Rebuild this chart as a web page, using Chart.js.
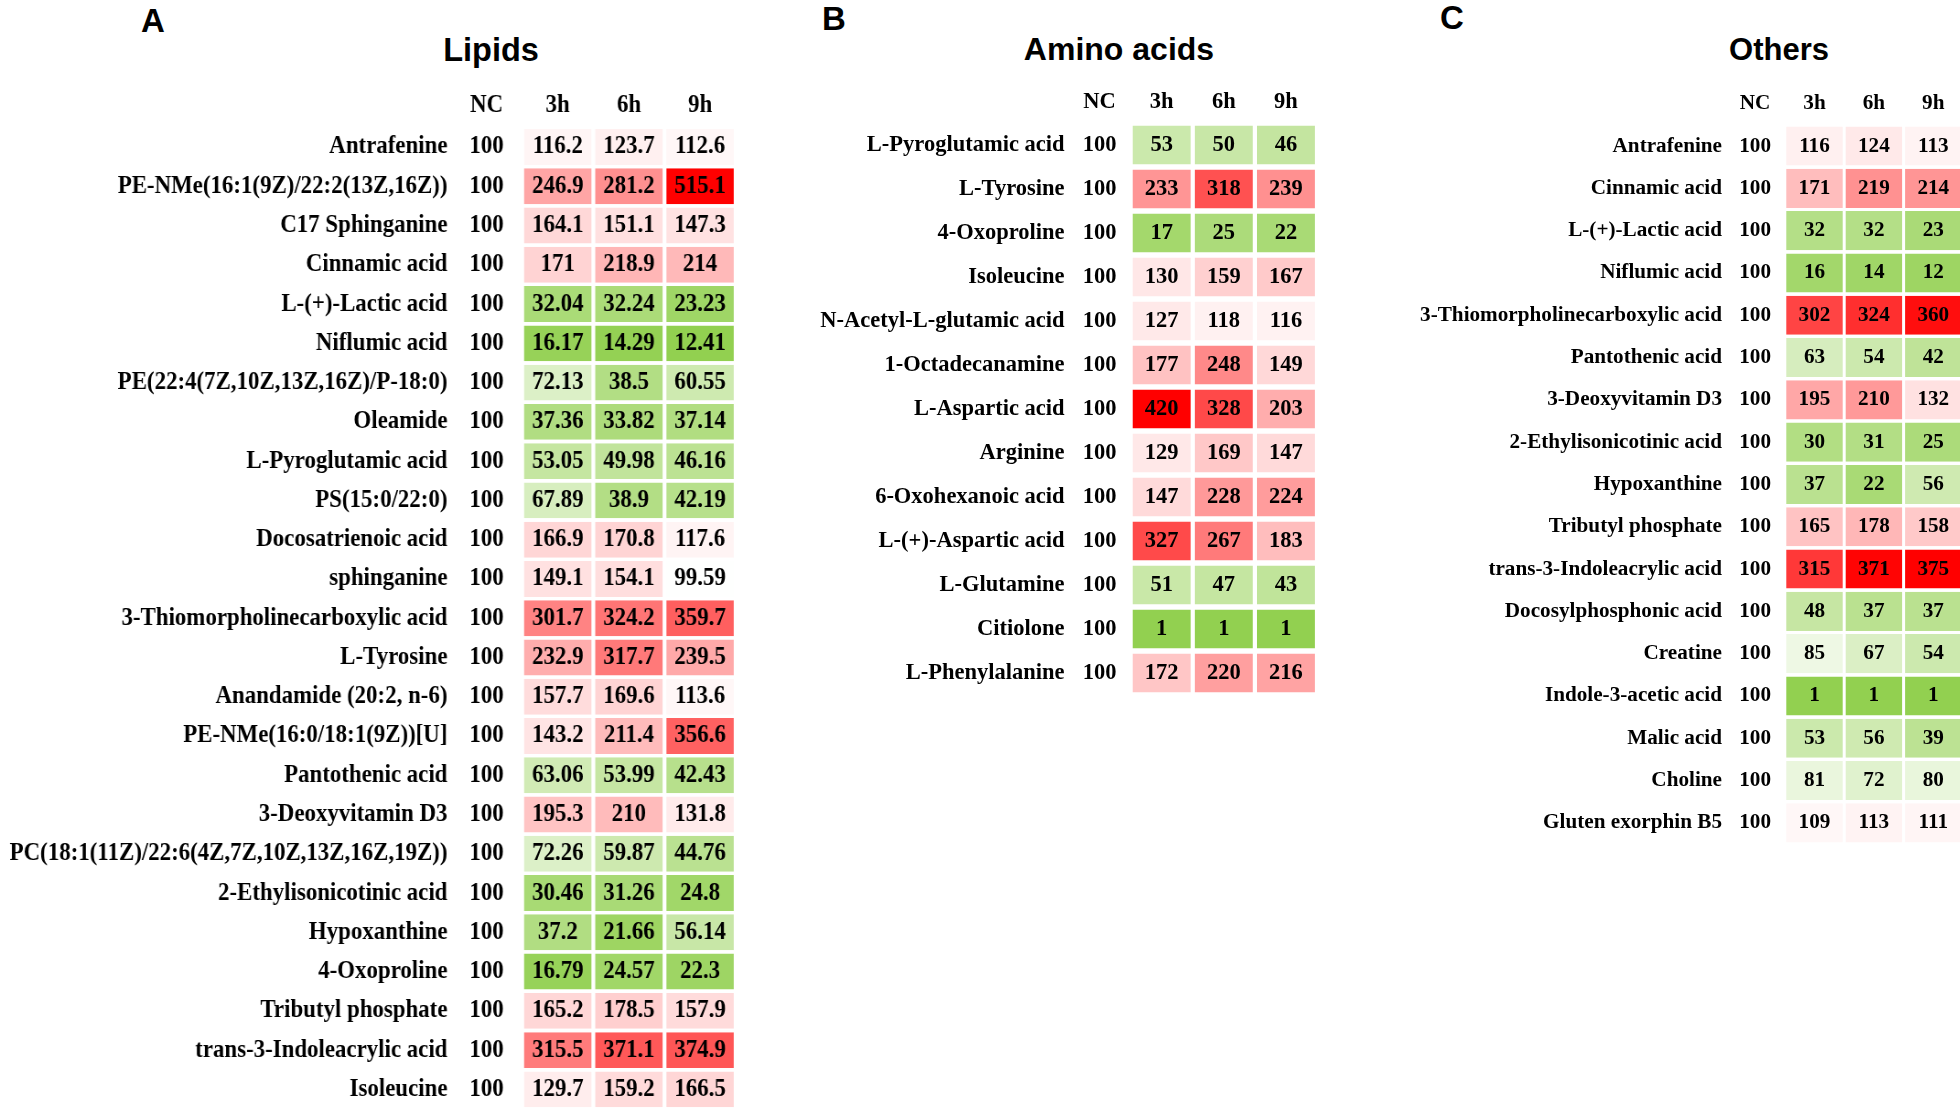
<!DOCTYPE html>
<html>
<head>
<meta charset="utf-8">
<script src="https://cdn.jsdelivr.net/npm/chart.js@4.4.1/dist/chart.umd.min.js"></script>
<style>
  html, body { margin: 0; padding: 0; background: #fff; width: 1960px; height: 1109px; overflow: hidden; }
  canvas.panel { position: absolute; transform-origin: 0 0; }
  .lbl { position: absolute; font-family: 'Liberation Sans', Arial, sans-serif; font-weight: bold;
         line-height: 1; white-space: nowrap; transform: translateX(-50%); color: #000; }
</style>
</head>
<body>
<div class="lbl" style="left:153px; top:4px; font-size:33px">A</div>
<div class="lbl" style="left:834px; top:2px; font-size:33px">B</div>
<div class="lbl" style="left:1452px; top:1px; font-size:33px">C</div>
<div class="lbl" style="left:491px; top:34px; font-size:32.5px">Lipids</div>
<div class="lbl" style="left:1119px; top:33px; font-size:32px">Amino acids</div>
<div class="lbl" style="left:1779px; top:34px; font-size:31px">Others</div>

<canvas id="lipids" class="panel" width="804" height="1107" style="left:0px; top:2px; width:804px; height:1107px; transform:scaleX(0.915)"></canvas>
<canvas id="amino" class="panel" width="517" height="695" style="left:800px; top:0px; width:517px; height:695px"></canvas>
<canvas id="others" class="panel" width="583" height="843" style="left:1380px; top:1px; width:583px; height:843px"></canvas>

<script>
const timeLabels = ['NC', '3h', '6h', '9h'];

// A - lipids
const lipidNames = [
  'Antrafenine', 'PE-NMe(16:1(9Z)/22:2(13Z,16Z))', 'C17 Sphinganine', 'Cinnamic acid',
  'L-(+)-Lactic acid', 'Niflumic acid', 'PE(22:4(7Z,10Z,13Z,16Z)/P-18:0)', 'Oleamide',
  'L-Pyroglutamic acid', 'PS(15:0/22:0)', 'Docosatrienoic acid', 'sphinganine',
  '3-Thiomorpholinecarboxylic acid', 'L-Tyrosine', 'Anandamide (20:2, n-6)',
  'PE-NMe(16:0/18:1(9Z))[U]', 'Pantothenic acid', '3-Deoxyvitamin D3',
  'PC(18:1(11Z)/22:6(4Z,7Z,10Z,13Z,16Z,19Z))', '2-Ethylisonicotinic acid', 'Hypoxanthine',
  '4-Oxoproline', 'Tributyl phosphate', 'trans-3-Indoleacrylic acid', 'Isoleucine'
];
const lipidNC = [100, 100, 100, 100, 100, 100, 100, 100, 100, 100, 100, 100, 100,
  100, 100, 100, 100, 100, 100, 100, 100, 100, 100, 100, 100];
const lipid3h = [116.2, 246.9, 164.1, 171, 32.04, 16.17, 72.13, 37.36, 53.05, 67.89, 166.9, 149.1,
  301.7, 232.9, 157.7, 143.2, 63.06, 195.3, 72.26, 30.46, 37.2, 16.79, 165.2, 315.5, 129.7];
const lipid6h = [123.7, 281.2, 151.1, 218.9, 32.24, 14.29, 38.5, 33.82, 49.98, 38.9, 170.8, 154.1,
  324.2, 317.7, 169.6, 211.4, 53.99, 210, 59.87, 31.26, 21.66, 24.57, 178.5, 371.1, 159.2];
const lipid9h = [112.6, 515.1, 147.3, 214, 23.23, 12.41, 60.55, 37.14, 46.16, 42.19, 117.6, 99.59,
  359.7, 239.5, 113.6, 356.6, 42.43, 131.8, 44.76, 24.8, 56.14, 22.3, 157.9, 374.9, 166.5];

// B - amino acids
const aminoNames = [
  'L-Pyroglutamic acid', 'L-Tyrosine', '4-Oxoproline', 'Isoleucine', 'N-Acetyl-L-glutamic acid',
  '1-Octadecanamine', 'L-Aspartic acid', 'Arginine', '6-Oxohexanoic acid', 'L-(+)-Aspartic acid',
  'L-Glutamine', 'Citiolone', 'L-Phenylalanine'
];
const aminoNC = [100, 100, 100, 100, 100, 100, 100, 100, 100, 100, 100, 100, 100];
const amino3h = [53, 233, 17, 130, 127, 177, 420, 129, 147, 327, 51, 1, 172];
const amino6h = [50, 318, 25, 159, 118, 248, 328, 169, 228, 267, 47, 1, 220];
const amino9h = [46, 239, 22, 167, 116, 149, 203, 147, 224, 183, 43, 1, 216];

// C - others
const otherNames = [
  'Antrafenine', 'Cinnamic acid', 'L-(+)-Lactic acid', 'Niflumic acid',
  '3-Thiomorpholinecarboxylic acid', 'Pantothenic acid', '3-Deoxyvitamin D3',
  '2-Ethylisonicotinic acid', 'Hypoxanthine', 'Tributyl phosphate', 'trans-3-Indoleacrylic acid',
  'Docosylphosphonic acid', 'Creatine', 'Indole-3-acetic acid', 'Malic acid', 'Choline',
  'Gluten exorphin B5'
];
const otherNC = [100, 100, 100, 100, 100, 100, 100, 100, 100, 100, 100, 100, 100, 100, 100, 100, 100];
const other3h = [116, 171, 32, 16, 302, 63, 195, 30, 37, 165, 315, 48, 85, 1, 53, 81, 109];
const other6h = [124, 219, 32, 14, 324, 54, 210, 31, 22, 178, 371, 37, 67, 1, 56, 72, 113];
const other9h = [113, 214, 23, 12, 360, 42, 132, 25, 56, 158, 375, 37, 54, 1, 39, 80, 111];

const GREEN = [146, 208, 80];
const RED = [255, 0, 0];

// white at 100 (NC), green toward the panel min, red toward the panel max
function cellColor(v, lo, hi) {
  const low = v < 100;
  const t = Math.min(low ? (100 - v) / (100 - lo) : (v - 100) / (hi - 100), 1);
  const c = low ? GREEN : RED;
  const mix = i => Math.round(255 + (c[i] - 255) * t);
  return `rgb(${mix(0)}, ${mix(1)}, ${mix(2)})`;
}

// number inside every cell
const cellText = {
  id: 'cellText',
  afterDatasetsDraw(chart, args, opts) {
    const { ctx, scales: { x, y } } = chart;
    ctx.save();
    ctx.font = `bold ${opts.size}px "Liberation Serif", "Times New Roman", serif`;
    ctx.fillStyle = '#000';
    ctx.textAlign = 'center';
    ctx.textBaseline = 'middle';
    chart.data.datasets.forEach((ds, c) => {
      ds.values.forEach((v, i) => {
        ctx.fillText(String(v), x.getPixelForValue(c), y.getPixelForValue(i));
      });
    });
    ctx.restore();
  }
};

function makeHeatmap(id, names, cols, o) {
  const all = cols.slice(1).flat();
  const lo = Math.min(...all), hi = Math.max(...all);
  const font = { family: '"Liberation Serif", "Times New Roman", serif', size: o.size, weight: 'bold' };

  return new Chart(document.getElementById(id), {
    type: 'bar',
    data: {
      labels: names,
      datasets: cols.map((vals, c) => ({
        label: timeLabels[c],
        values: vals,
        data: vals.map(() => [c - 0.5, c + 0.5]),
        backgroundColor: c === 0 ? 'rgba(0,0,0,0)' : vals.map(v => cellColor(v, lo, hi)),
        borderColor: '#fff',
        borderWidth: { left: o.gap, right: o.gap, top: 0, bottom: 0 },
        borderSkipped: false,
        grouped: false,
        categoryPercentage: 1,
        barPercentage: o.barPct
      }))
    },
    options: {
      indexAxis: 'y',
      responsive: false,
      animation: false,
      devicePixelRatio: 1,
      events: [],
      layout: { padding: 0 },
      plugins: {
        legend: { display: false },
        tooltip: { enabled: false },
        cellText: { size: o.size }
      },
      scales: {
        x: {
          type: 'linear',
          position: 'top',
          min: -0.5,
          max: 3.5,
          grid: { display: false, drawTicks: false },
          border: { display: false },
          afterBuildTicks: s => { s.ticks = [0, 1, 2, 3].map(v => ({ value: v })); },
          afterFit: s => { s.height = o.headH; s.paddingLeft = 0; s.paddingRight = 0; },
          ticks: {
            callback: v => timeLabels[v],
            font, color: '#000', padding: o.headPad, maxRotation: 0, autoSkip: false
          }
        },
        y: {
          grid: { display: false, drawTicks: false },
          border: { display: false },
          afterFit: s => { s.width = o.labelW; s.paddingTop = 0; s.paddingBottom = 0; },
          ticks: { font, color: '#000', padding: o.labelPad, autoSkip: false }
        }
      }
    },
    plugins: [cellText]
  });
}

// panel A is drawn slightly condensed (canvas scaleX 0.915), so its sizes are in canvas units
makeHeatmap('lipids', lipidNames, [lipidNC, lipid3h, lipid6h, lipid9h],
  { size: 25, labelW: 492.9, labelPad: 3.9, headH: 125.4, headPad: 7.2, barPct: 0.915, gap: 2.1 });
makeHeatmap('amino', aminoNames, [aminoNC, amino3h, amino6h, amino9h],
  { size: 22.5, labelW: 268.5, labelPad: 4, headH: 123, headPad: 7.5, barPct: 0.89, gap: 2.1 });
makeHeatmap('others', otherNames, [otherNC, other3h, other6h, other9h],
  { size: 21.2, labelW: 345.4, labelPad: 3.4, headH: 123.9, headPad: 8.5, barPct: 0.925, gap: 1.5 });
</script>
</body>
</html>
